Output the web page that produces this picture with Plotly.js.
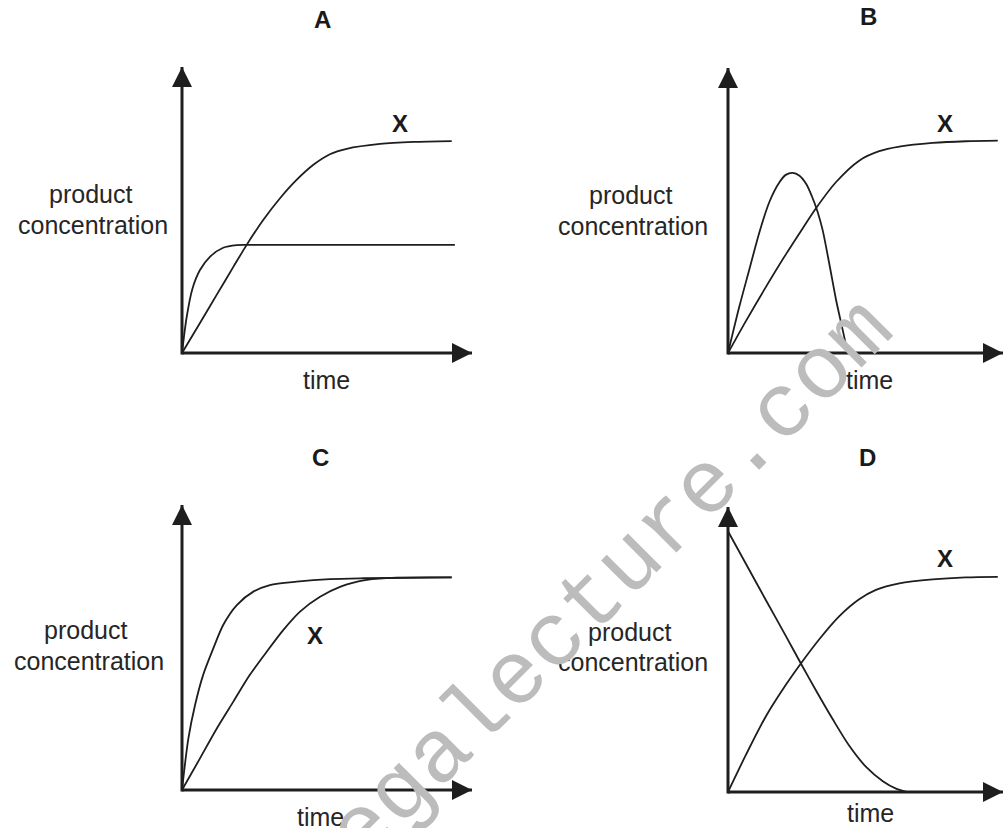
<!DOCTYPE html>
<html><head><meta charset="utf-8">
<script src="https://cdn.plot.ly/plotly-3.0.1.min.js"></script>
<style>html,body{margin:0;padding:0;background:#fff;} #chart{width:1003px;height:828px;}</style>
</head><body><div id="chart"></div>
<script>
// ---------- text ----------
const panelLetters = ['A', 'B', 'C', 'D'];
const yLabelLine1 = 'product';
const yLabelLine2 = 'concentration';
const xLabel = 'time';
const curveLabel = 'X';
const watermarkText = 'megalecture.com';

// ---------- data (time, product concentration; arbitrary units 0-10) ----------
// Panel A
const timeA_X = [0, 0.62, 1.20, 1.77, 2.23, 2.80, 3.38, 3.95, 4.53, 5.10, 5.68, 6.83, 7.98, 9.30];
const concA_X = [0, 1.05, 2.04, 3.01, 3.78, 4.65, 5.41, 6.05, 6.58, 6.95, 7.14, 7.31, 7.38, 7.41];
const timeA_2 = [0, 0.16, 0.36, 0.62, 0.97, 1.42, 1.89, 2.23, 9.41];
const concA_2 = [0, 1.25, 2.25, 2.90, 3.37, 3.68, 3.77, 3.78, 3.78];
// Panel B
const timeB_X = [0, 0.65, 1.38, 2.11, 2.72, 3.20, 3.93, 4.77, 5.50, 6.23, 7.44, 8.65, 9.81];
const concB_X = [0, 1.12, 2.32, 3.47, 4.38, 5.08, 6.00, 6.75, 7.08, 7.24, 7.37, 7.43, 7.45];
const timeB_2 = [0, 0.41, 0.77, 1.14, 1.50, 1.87, 2.10, 2.35, 2.60, 2.85, 3.05, 3.26, 3.44, 3.68, 3.93, 4.17, 4.35];
const concB_2 = [0, 1.62, 2.91, 4.23, 5.29, 5.99, 6.25, 6.32, 6.22, 5.92, 5.50, 4.95, 4.32, 3.15, 1.86, 0.81, 0];
// Panel C
const timeC_X = [0, 0.62, 1.20, 1.77, 2.34, 2.92, 3.49, 4.07, 4.76, 5.45, 6.37, 7.40, 9.30];
const concC_X = [0, 1.11, 2.16, 3.10, 4.04, 4.85, 5.61, 6.26, 6.78, 7.13, 7.37, 7.45, 7.46];
const timeC_2 = [0, 0.22, 0.45, 0.73, 1.08, 1.42, 1.89, 2.46, 3.03, 3.95, 5.10, 6.25, 9.30];
const concC_2 = [0, 1.81, 2.98, 4.04, 4.97, 5.79, 6.49, 6.96, 7.19, 7.31, 7.40, 7.43, 7.46];
// Panel D
const timeD_X = [0, 0.65, 1.38, 2.11, 2.65, 3.32, 4.05, 4.77, 5.38, 6.23, 7.44, 8.65, 9.81];
const concD_X = [0, 1.30, 2.66, 3.77, 4.51, 5.36, 6.17, 6.76, 7.09, 7.32, 7.46, 7.53, 7.55];
const timeD_2 = [0, 0.65, 1.38, 2.11, 2.65, 3.20, 3.81, 4.41, 5.02, 5.63, 6.11, 6.53];
const concD_2 = [9.15, 8.01, 6.73, 5.46, 4.51, 3.56, 2.55, 1.62, 0.88, 0.38, 0.12, 0];

const panelData = [
  [[timeA_X, concA_X], [timeA_2, concA_2]],
  [[timeB_X, concB_X], [timeB_2, concB_2]],
  [[timeC_X, concC_X], [timeC_2, concC_2]],
  [[timeD_X, concD_X], [timeD_2, concD_2]]
];

// ---------- layout geometry ----------
const W = 1003, H = 828;
const AX_MAX = 10, AX_MIN = -0.5;
const geom = [
  {ox: 182, oy: 353, tx: 472, ty: 67},
  {ox: 728, oy: 353, tx: 1003, ty: 68},
  {ox: 182, oy: 790, tx: 472, ty: 505},
  {ox: 728, oy: 792, tx: 1003, ty: 507}
];
const letterPos = [[322, 20], [868, 17], [320, 457], [867, 457]];
const xLabelPos = [[400, 123], [945, 123], [315, 635], [945, 558]];
const prodPos = [[90, 194], [630, 195], [85, 630], [629, 632]];
const concPos = [[93, 225], [633, 226], [89, 661], [633, 662]];
const timePos = [[326, 380], [869, 380], [320, 817], [870, 813]];

const INK = '#1e1e1e';
const traces = [];
const layout = {
  width: W, height: H,
  margin: {l: 0, r: 0, t: 0, b: 0},
  paper_bgcolor: '#ffffff', plot_bgcolor: 'rgba(0,0,0,0)',
  showlegend: false,
  annotations: []
};

function px(x, y) { return {x: x / W, y: 1 - y / H}; }

geom.forEach((g, i) => {
  const n = i === 0 ? '' : String(i + 1);
  const xa = 'x' + n, ya = 'y' + n;
  const ux = (g.tx - g.ox) / AX_MAX, uy = (g.oy - g.ty) / AX_MAX;
  const left = g.ox + AX_MIN * ux, bottom = g.oy - AX_MIN * uy;
  const axCommon = {showgrid: false, zeroline: false, showticklabels: false,
    showline: false, ticks: '', fixedrange: true, range: [AX_MIN, AX_MAX]};
  layout['xaxis' + n] = Object.assign({}, axCommon, {domain: [left / W, g.tx / W], anchor: ya});
  layout['yaxis' + n] = Object.assign({}, axCommon, {domain: [1 - bottom / H, 1 - g.ty / H], anchor: xa});

  // curves
  panelData[i].forEach(([t, c]) => {
    traces.push({x: t, y: c, xaxis: xa, yaxis: ya, mode: 'lines',
      line: {color: INK, width: 1.8, shape: 'spline', smoothing: 0.8},
      hoverinfo: 'skip'});
  });
  // axes with arrowheads
  traces.push({x: [0, AX_MAX], y: [0, 0], xaxis: xa, yaxis: ya, mode: 'lines',
    line: {color: INK, width: 3}, hoverinfo: 'skip'});
  traces.push({x: [0, 0], y: [-0.05, AX_MAX], xaxis: xa, yaxis: ya, mode: 'lines',
    line: {color: INK, width: 3}, hoverinfo: 'skip'});
  traces.push({x: [AX_MAX], y: [0], xaxis: xa, yaxis: ya, mode: 'markers', cliponaxis: false,
    marker: {symbol: 'arrow-right', size: 20, color: INK, line: {width: 0}}, hoverinfo: 'skip'});
  traces.push({x: [0], y: [AX_MAX], xaxis: xa, yaxis: ya, mode: 'markers', cliponaxis: false,
    marker: {symbol: 'arrow-up', size: 20, color: INK, line: {width: 0}}, hoverinfo: 'skip'});

  const f = {family: 'Liberation Sans, Arial, sans-serif', size: 25, color: '#262626'};
  const fb = {family: 'Liberation Sans, Arial, sans-serif', size: 24, color: '#1a1a1a', weight: 'bold'};
  const add = (p, text, font) => {
    const q = px(p[0], p[1]);
    layout.annotations.push({xref: 'paper', yref: 'paper', x: q.x, y: q.y,
      xanchor: 'center', yanchor: 'middle', text: text, showarrow: false, font: font});
  };
  add(letterPos[i], '<b>' + panelLetters[i] + '</b>', fb);
  add(xLabelPos[i], '<b>' + curveLabel + '</b>', fb);
  add(prodPos[i], yLabelLine1, f);
  add(concPos[i], yLabelLine2, f);
  add(timePos[i], xLabel, f);
});

// watermark
const wm = px(593, 602);
layout.annotations.push({xref: 'paper', yref: 'paper', x: wm.x, y: wm.y,
  xanchor: 'center', yanchor: 'middle', text: watermarkText, showarrow: false,
  textangle: -45, font: {family: 'Liberation Mono, Courier New, monospace', size: 90, color: '#bcbcbc'}});

Plotly.newPlot('chart', traces, layout, {staticPlot: true, displayModeBar: false});
</script>
</body></html>
